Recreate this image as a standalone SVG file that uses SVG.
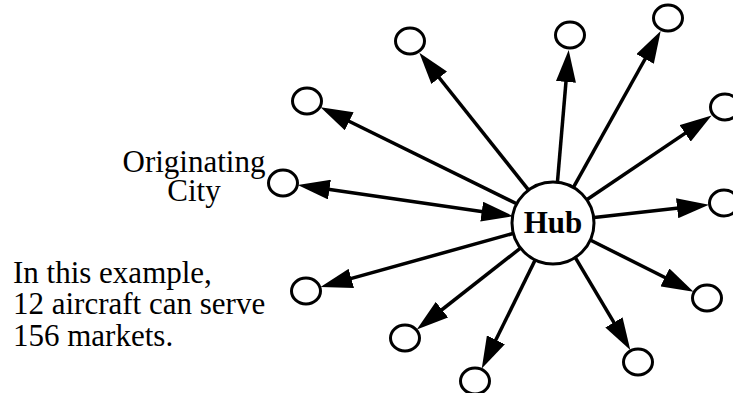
<svg xmlns="http://www.w3.org/2000/svg" width="733" height="393" viewBox="0 0 733 393">
<style>
.conn{stroke:#000;stroke-width:3.5;fill:none;marker-end:url(#ah)}
.city{fill:#fff;stroke:#000;stroke-width:3}
.lbl{font-family:"Liberation Serif","Times New Roman",serif;font-size:31px;fill:#000}
.hubt{font-family:"Liberation Serif","Times New Roman",serif;font-size:31px;font-weight:bold;fill:#000}
</style>
<defs>
<marker id="ah" markerUnits="userSpaceOnUse" markerWidth="32" markerHeight="20" refX="24" refY="10" orient="auto-start-reverse" viewBox="0 0 32 20">
<path d="M0,0 L32,10 L0,20 Z" fill="#000"/>
</marker>
</defs>
<rect width="733" height="393" fill="#fff"/>
<g id="connectors">
<line class="conn" x1="531.6" y1="193.8" x2="424.3" y2="59.0"/>
<line class="conn" x1="557.1" y1="186.1" x2="568.0" y2="58.0"/>
<line class="conn" x1="571.6" y1="190.6" x2="656.8" y2="38.0"/>
<line class="conn" x1="583.8" y1="201.8" x2="705.0" y2="119.9"/>
<line class="conn" x1="589.8" y1="218.0" x2="701.0" y2="205.6"/>
<line class="conn" x1="586.2" y1="238.0" x2="686.4" y2="288.2"/>
<line class="conn" x1="572.5" y1="252.9" x2="626.2" y2="343.1"/>
<line class="conn" x1="538.0" y1="254.2" x2="485.3" y2="361.3"/>
<line class="conn" x1="525.6" y1="244.1" x2="423.1" y2="324.5"/>
<line class="conn" x1="519.3" y1="231.7" x2="328.2" y2="284.9"/>
<line class="conn" x1="505.5" y1="215.1" x2="305.7" y2="186.1" style="marker-start:url(#ah)"/>
<line class="conn" x1="521.7" y1="206.2" x2="327.7" y2="110.7"/>
</g>
<g id="hub">
<circle cx="553" cy="223" r="41" fill="#fff" stroke="#000" stroke-width="3"/>
<text class="hubt" x="553" y="233" text-anchor="middle">Hub</text>
</g>
<g id="city1"><ellipse class="city" cx="410" cy="41" rx="14.5" ry="13"/></g>
<g id="city2"><ellipse class="city" cx="570" cy="35" rx="14.5" ry="13"/></g>
<g id="city3"><ellipse class="city" cx="668" cy="18" rx="14.5" ry="13"/></g>
<g id="city4"><ellipse class="city" cx="725" cy="107" rx="14.5" ry="13"/></g>
<g id="city5"><ellipse class="city" cx="724" cy="203" rx="14.5" ry="13"/></g>
<g id="city6"><ellipse class="city" cx="707" cy="298" rx="14.5" ry="13"/></g>
<g id="city7"><ellipse class="city" cx="638" cy="362" rx="14.5" ry="13"/></g>
<g id="city8"><ellipse class="city" cx="475" cy="381" rx="14.5" ry="13"/></g>
<g id="city9"><ellipse class="city" cx="405" cy="338" rx="14.5" ry="13"/></g>
<g id="city10"><ellipse class="city" cx="306" cy="291" rx="14.5" ry="13"/></g>
<g id="origin">
<ellipse class="city" cx="283" cy="183" rx="14.5" ry="13"/>
<text class="lbl" x="194" y="172" text-anchor="middle">Originating</text>
<text class="lbl" x="194" y="201" text-anchor="middle">City</text>
</g>
<g id="city12"><ellipse class="city" cx="307" cy="101" rx="14.5" ry="13"/></g>
<g id="note">
<text class="lbl" x="13" y="283">In this example,</text>
<text class="lbl" x="13" y="314">12 aircraft can serve</text>
<text class="lbl" x="13" y="346">156 markets.</text>
</g>
</svg>
